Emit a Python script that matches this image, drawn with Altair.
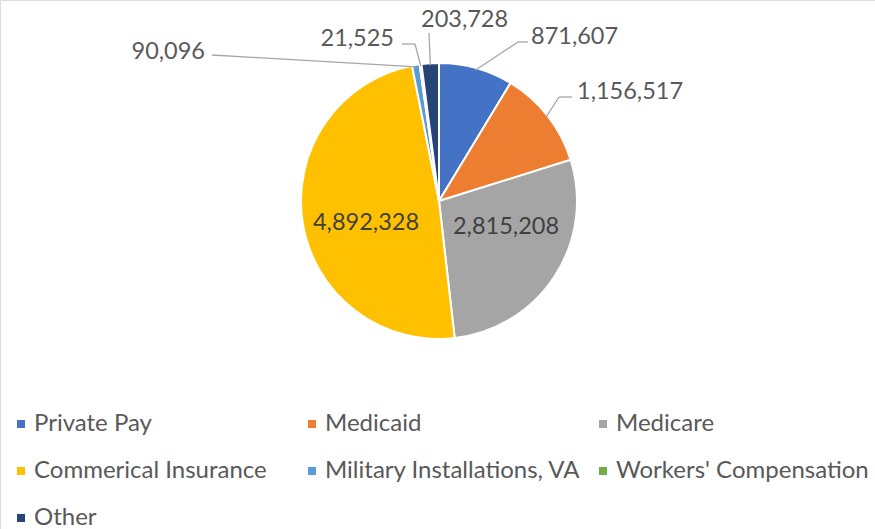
import altair as alt
import pandas as pd

# ---- data ----
categories = ["Private Pay", "Medicaid", "Medicare", "Commerical Insurance",
              "Military Installations, VA", "Workers' Compensation", "Other"]
values = [871607, 1156517, 2815208, 4892328, 90096, 21525, 203728]
colors = ["#4472C4", "#ED7D31", "#A5A5A5", "#FFC000", "#5B9BD5", "#70AD47", "#264478"]

# ---- layout (pixels) ----
CX, CY, R = 439, 201, 138
FONT = "Lato"
# label anchor: (text x, text baseline y, align, elbow x, elbow y, end x, end y) ; None elbow = inside label
label_layout = {
    "Private Pay": (531, 44, "left", 518, 42, 528, 42),
    "Medicaid": (577, 99, "left", 559, 97, 572, 97),
    "Medicare": (506, 234, "center", None, None, None, None),
    "Commerical Insurance": (366, 230, "center", None, None, None, None),
    "Military Installations, VA": (205, 59, "right", 212, 55, 212, 55),
    "Workers' Compensation": (394, 46, "right", 415, 44, 402, 44),
    "Other": (421, 27, "left", 429, 33, 429, 33),
}

df = pd.DataFrame({"category": categories, "value": values, "idx": list(range(len(categories)))})
df["tx"] = [label_layout[c][0] for c in categories]
df["ty"] = [label_layout[c][1] for c in categories]
df["align"] = [label_layout[c][2] for c in categories]
df["ex"] = [label_layout[c][3] for c in categories]
df["ey"] = [label_layout[c][4] for c in categories]
df["hx"] = [label_layout[c][5] for c in categories]
df["hy"] = [label_layout[c][6] for c in categories]
df["inside"] = [label_layout[c][3] is None for c in categories]

base = alt.Chart(df)

pie = base.mark_arc(outerRadius=R, stroke="white", strokeWidth=2).encode(
    theta=alt.Theta("value:Q", stack=True),
    order=alt.Order("idx:Q"),
    x=alt.value(CX),
    y=alt.value(CY),
    color=alt.Color(
        "category:N",
        scale=alt.Scale(domain=categories, range=colors),
        legend=alt.Legend(
            title=None, orient="none", legendX=9, legendY=412,
            direction="horizontal",
            columns=3, gridAlign="all", columnPadding=10, rowPadding=23,
            symbolType="square", symbolSize=64, symbolStrokeWidth=0,
            labelFont=FONT, labelFontSize=24, labelColor="#595959",
            labelOffset=1, labelLimit=400,
        ),
    ),
)

geo = (
    base.transform_joinaggregate(total="sum(value)")
    .transform_window(cum="sum(value)", sort=[alt.SortField("idx")], frame=[None, 0])
    .transform_calculate(
        mid="(datum.cum - datum.value/2) / datum.total * 2 * PI",
        sx=f"{CX} + {R - 2} * sin(datum.mid)",
        sy=f"{CY} - {R - 2} * cos(datum.mid)",
    )
)

outside = geo.transform_filter("!datum.inside")

leader1 = outside.mark_rule(color="#A6A6A6", strokeWidth=1.3).encode(
    x=alt.X("sx:Q", scale=None), y=alt.Y("sy:Q", scale=None),
    x2="ex:Q", y2="ey:Q",
)
leader2 = outside.mark_rule(color="#A6A6A6", strokeWidth=1.3).encode(
    x=alt.X("ex:Q", scale=None), y=alt.Y("ey:Q", scale=None),
    x2="hx:Q", y2="hy:Q",
)

def text_layer(align, color):
    return base.transform_filter(f"datum.align == '{align}'").mark_text(
        align=align, baseline="alphabetic", font=FONT, fontSize=23.5, color=color
    ).encode(
        x=alt.X("tx:Q", scale=None), y=alt.Y("ty:Q", scale=None),
        text=alt.Text("value:Q", format=","),
    )

labels = text_layer("left", "#595959") + text_layer("right", "#595959") + text_layer("center", "#404040")

chart = alt.layer(pie, leader1, leader2, labels).properties(
    width=875, height=529, autosize=alt.AutoSizeParams(type="none"), padding=0
).configure_view(stroke=None).configure(background="white")

chart.save("out.html", embed_options={"renderer": "svg", "actions": False})
